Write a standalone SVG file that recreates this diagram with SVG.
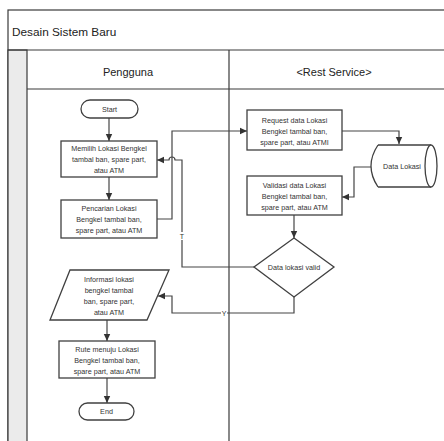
<svg xmlns="http://www.w3.org/2000/svg" width="444" height="441" viewBox="0 0 444 441">
<style>
.frame{fill:none;stroke:#3a3a3a;stroke-width:1.2}
.node{fill:#fff;stroke:#404040;stroke-width:1.3}
.conn{fill:none;stroke:#454545;stroke-width:1.2}
.t{font-family:"Liberation Sans",Arial,sans-serif;font-size:7.2px;fill:#333;text-anchor:middle}
.h{font-family:"Liberation Sans",Arial,sans-serif;font-size:11px;fill:#222}
.lbl{font-family:"Liberation Sans",Arial,sans-serif;font-size:7px;fill:#333;text-anchor:middle}
</style>
<defs>
<marker id="arr" markerUnits="userSpaceOnUse" markerWidth="8" markerHeight="8" refX="7" refY="4" orient="auto">
<path d="M0,0.8 L7,4 L0,7.2 Z" fill="#333"/>
</marker>
</defs>
<rect width="444" height="441" fill="#fff"/>
<g id="pool">
<rect x="8" y="10" width="450" height="440" class="frame" fill="none"/>
<rect x="8" y="50" width="19" height="400" fill="#ebebeb" stroke="#3a3a3a" stroke-width="1.2"/>
<line x1="8" y1="50" x2="444" y2="50" class="frame"/>
<line x1="27" y1="89" x2="444" y2="89" class="frame"/>
<line x1="229" y1="50" x2="229" y2="441" class="frame"/>
<text x="12" y="36" class="h" style="font-size:11.8px">Desain Sistem Baru</text>
<text x="128" y="76" class="h" text-anchor="middle">Pengguna</text>
<text x="334" y="76" class="h" text-anchor="middle">&lt;Rest Service&gt;</text>
</g>
<g id="connectors">
<path d="M109,118 V141" class="conn" marker-end="url(#arr)"/>
<path d="M109,177 V200" class="conn" marker-end="url(#arr)"/>
<path d="M157,219 H172 V131 H247" class="conn" marker-end="url(#arr)"/>
<path d="M342,131 H399 V144" class="conn" marker-end="url(#arr)"/>
<path d="M371,167 H354 V197 H342" class="conn" marker-end="url(#arr)"/>
<path d="M294,215 V238" class="conn" marker-end="url(#arr)"/>
<path d="M254,267 H182 V160 H175 A3,3 0 0 0 169,160 H157" class="conn" marker-end="url(#arr)"/>
<path d="M294,297 V313 H172 V296 H158" class="conn" marker-end="url(#arr)"/>
<path d="M107,320 V341" class="conn" marker-end="url(#arr)"/>
<path d="M107,378 V403" class="conn" marker-end="url(#arr)"/>
<rect x="179" y="232" width="6" height="8" fill="#fff"/>
<text x="182" y="238.5" class="lbl">T</text>
<rect x="221" y="309" width="6" height="8" fill="#fff"/>
<text x="224" y="315.5" class="lbl">Y</text>
</g>
<g id="start">
<rect x="81" y="100" width="57" height="18" rx="9" class="node"/>
<text x="109.5" y="111.5" class="t">Start</text>
</g>
<g id="memilih">
<rect x="61" y="141" width="96" height="36" class="node"/>
<text class="t"><tspan x="109" y="151">Memilih Lokasi Bengkel</tspan><tspan x="109" y="162">tambal ban, spare part,</tspan><tspan x="109" y="173">atau ATM</tspan></text>
</g>
<g id="pencarian">
<rect x="61" y="200" width="96" height="38" class="node"/>
<text class="t"><tspan x="109" y="211">Pencarian Lokasi</tspan><tspan x="109" y="222">Bengkel tambal ban,</tspan><tspan x="109" y="233">spare part, atau ATM</tspan></text>
</g>
<g id="request">
<rect x="247" y="110" width="95" height="40" class="node"/>
<text class="t"><tspan x="294.5" y="123">Request data Lokasi</tspan><tspan x="294.5" y="134">Bengkel tambal ban,</tspan><tspan x="294.5" y="145">spare part, atau ATMI</tspan></text>
</g>
<g id="datalokasi">
<path d="M378,145 H431 M378,187 H431 M378,145 Q364,166 378,187" class="node"/>
<ellipse cx="431" cy="166" rx="6" ry="21" class="node"/>
<text x="402" y="169" class="t">Data Lokasi</text>
</g>
<g id="validasi">
<rect x="247" y="176" width="95" height="39" class="node"/>
<text class="t"><tspan x="294.5" y="188">Validasi data Lokasi</tspan><tspan x="294.5" y="199">Bengkel tambal ban,</tspan><tspan x="294.5" y="210">spare part, atau ATM</tspan></text>
</g>
<g id="decision">
<path d="M294,238 L334,267 L294,297 L254,267 Z" class="node"/>
<text x="294" y="270" class="t">Data lokasi valid</text>
</g>
<g id="informasi">
<path d="M70,270 H169 L147,320 H50 Z" class="node"/>
<text class="t"><tspan x="109" y="282">Informasi lokasi</tspan><tspan x="109" y="293">bengkel tambal</tspan><tspan x="109" y="304">ban, spare part,</tspan><tspan x="109" y="315">atau ATM</tspan></text>
</g>
<g id="rute">
<rect x="59" y="341" width="96" height="37" class="node"/>
<text class="t"><tspan x="107" y="352">Rute menuju Lokasi</tspan><tspan x="107" y="363">Bengkel tambal ban,</tspan><tspan x="107" y="374">spare part, atau ATM</tspan></text>
</g>
<g id="end">
<rect x="79" y="403" width="55" height="17" rx="8.5" class="node"/>
<text x="106.5" y="414" class="t">End</text>
</g>
</svg>
